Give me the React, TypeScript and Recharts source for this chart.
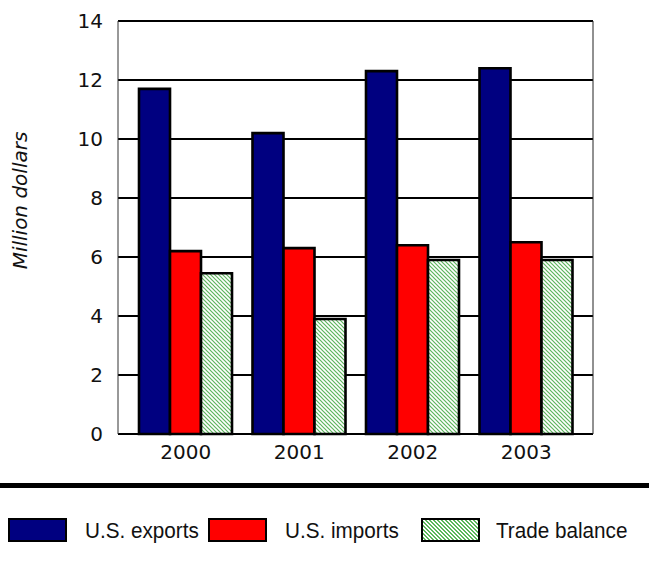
import { BarChart, Bar, XAxis, YAxis, CartesianGrid, Label } from 'recharts';

// values (million dollars)
const years = ['2000', '2001', '2002', '2003'];
const usExports = [11.7, 10.2, 12.3, 12.4];
const usImports = [6.2, 6.3, 6.4, 6.5];
const tradeBalance = [5.45, 3.9, 5.9, 5.9];
const yTicks = [0, 2, 4, 6, 8, 10, 12, 14];

const SERIES = [
  { key: 'exports', name: 'U.S. exports', fill: '#000080' },
  { key: 'imports', name: 'U.S. imports', fill: '#ff0000' },
  { key: 'balance', name: 'Trade balance', fill: 'url(#hatchGreen)' },
];

// legend layout (px from left edge of the page)
const LEGEND_SWATCH_X = [8, 208, 421];
const LEGEND_TEXT_X = [85, 285, 496];

const data = years.map((year, i) => ({
  year,
  exports: usExports[i],
  imports: usImports[i],
  balance: tradeBalance[i],
}));

const tickFont = { fontFamily: 'DejaVu Sans, sans-serif', fontSize: 20, fill: '#111' };

function Swatch({ seriesKey, fill, left }: { seriesKey: string; fill: string; left: number }) {
  const background =
    seriesKey === 'balance'
      ? 'repeating-linear-gradient(45deg, #ffffff 0px, #ffffff 1.4px, #5cb85c 1.4px, #5cb85c 2.8px)'
      : fill;
  return (
    <div
      style={{
        position: 'absolute',
        left,
        top: 518,
        width: 55,
        height: 20,
        border: '2px solid #000',
        background,
      }}
    />
  );
}

export default function App() {
  return (
    <div style={{ position: 'absolute', left: 0, top: 0, width: 649, height: 575, background: '#fff' }}>
      <BarChart
        width={649}
        height={470}
        data={data}
        margin={{ top: 21, right: 55, left: 0, bottom: 0 }}
        barCategoryGap={10}
        barGap={0}
      >
        <defs>
          <pattern id="hatchGreen" patternUnits="userSpaceOnUse" width={4} height={4}>
            <rect width={4} height={4} fill="#ffffff" />
            <path d="M-1,-1 L5,5 M-1,3 L1,5 M3,-1 L5,1" stroke="#5db55d" strokeWidth={1.2} />
          </pattern>
        </defs>
        <CartesianGrid horizontal vertical={false} stroke="#000" strokeWidth={2} />
        <XAxis
          dataKey="year"
          padding={{ left: 11, right: 10 }}
          tickLine={false}
          tickSize={0}
          tickMargin={11}
          height={36}
          axisLine={{ stroke: '#000', strokeWidth: 1.5 }}
          tick={tickFont}
        />
        <YAxis
          domain={[0, 14]}
          ticks={yTicks}
          width={118}
          tickLine={false}
          tickSize={0}
          tickMargin={15}
          axisLine={{ stroke: '#333', strokeWidth: 1 }}
          tick={tickFont}
        >
          <Label
            content={({ viewBox }: any) => {
              const cy = viewBox.y + viewBox.height / 2 - 27;
              return (
                <text
                  x={20}
                  y={cy}
                  transform={`rotate(-90 20 ${cy})`}
                  textAnchor="middle"
                  dominantBaseline="central"
                  style={{ fontFamily: 'DejaVu Sans, sans-serif', fontSize: 20, fontStyle: 'italic', fill: '#111' }}
                >
                  Million dollars
                </text>
              );
            }}
          />
        </YAxis>
        <YAxis
          yAxisId="frame"
          orientation="right"
          width={1}
          domain={[0, 14]}
          tick={false}
          tickLine={false}
          axisLine={{ stroke: '#222', strokeWidth: 1 }}
        />
        {SERIES.map((s) => (
          <Bar
            key={s.key}
            dataKey={s.key}
            name={s.name}
            fill={s.fill}
            stroke="#000"
            strokeWidth={2.6}
            isAnimationActive={false}
          />
        ))}
      </BarChart>

      <div style={{ position: 'absolute', left: 0, top: 483, width: 649, height: 5, background: '#000' }} />

      {SERIES.map((s, i) => (
        <div key={s.key}>
          <Swatch seriesKey={s.key} fill={s.fill} left={LEGEND_SWATCH_X[i]} />
          <span
            style={{
              position: 'absolute',
              left: LEGEND_TEXT_X[i],
              top: 518,
              lineHeight: '26px',
              whiteSpace: 'nowrap',
              fontFamily: '"Liberation Sans", Arial, sans-serif',
              fontSize: 22,
              color: '#111',
              transform: 'scaleX(0.94)',
              transformOrigin: 'left center',
            }}
          >
            {s.name}
          </span>
        </div>
      ))}
    </div>
  );
}
